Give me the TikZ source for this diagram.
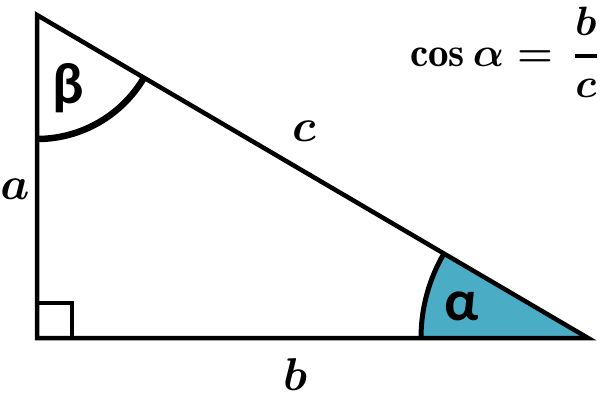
\RequirePackage{fix-cm}
\documentclass[tikz,border=0pt]{standalone}
\usepackage{fontspec}
\newfontfamily\greekfont{Carlito}
\definecolor{aqua}{HTML}{4BACC6}
\begin{document}
\begin{tikzpicture}[x=1pt,y=-1pt,
  side/.style={line width=4.5pt,line join=miter,line cap=rect},
  mathlbl/.style={inner sep=0pt,font=\fontsize{46}{50}\selectfont\boldmath},
  greeklbl/.style={inner sep=0pt,font=\fontsize{58}{62}\selectfont\greekfont\bfseries}]
\useasboundingbox (0,0) rectangle (600,410);
\coordinate (A) at (37,15);
\coordinate (C) at (37,338);
\coordinate (B) at (588,338);
% alpha sector
\fill[aqua] (B) -- ++(180:167) arc[start angle=180,end angle=210.4,radius=167] -- cycle;
\draw[line width=5pt] (B) ++(180:167) arc[start angle=180,end angle=210.4,radius=167];
% beta arc
\draw[line width=6.5pt,line cap=butt] (A) ++(90:124) arc[start angle=90,end angle=30.4,radius=124];
% right angle
\draw[line width=4pt] (37,303) -- (72,303) -- (72,338);
% triangle
\draw[side] (A) -- (C) -- (B) -- cycle;
% labels
\node[greeklbl] (beta) at (68,88) {β};
\node[greeklbl] (alpha) at (462,306) {α};
\node[mathlbl] (lc) at (304,131) {$c$};
\node[mathlbl] (la) at (15,189) {$a$};
\node[mathlbl] (lb) at (295,375) {$b$};
\node[mathlbl,anchor=east,font=\fontsize{41}{45}\selectfont\boldmath] (f) at (598,52) {$\cos\alpha=\,\displaystyle{b\above 3.5pt c}$};
\end{tikzpicture}
\end{document}
